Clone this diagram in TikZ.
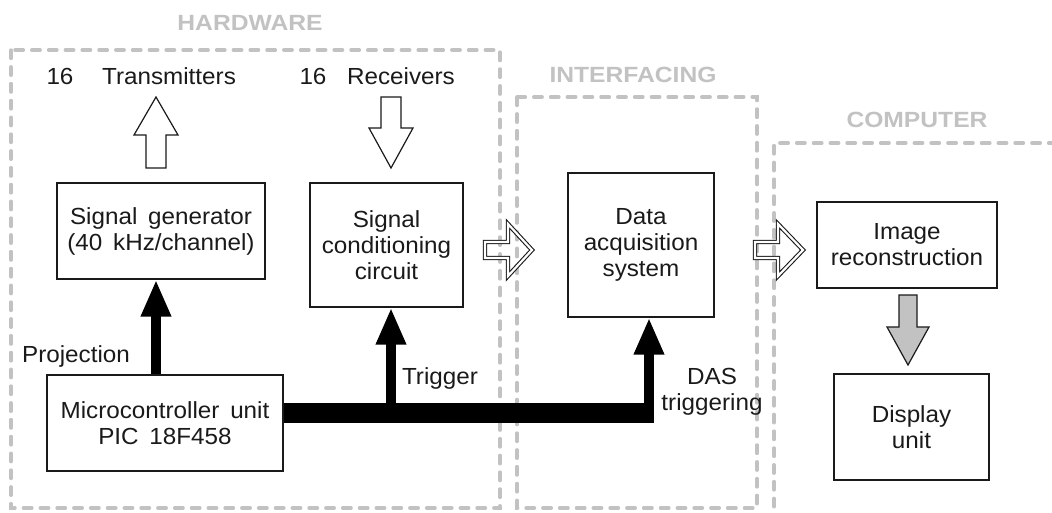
\documentclass[tikz,border=0pt]{standalone}
\usepackage{fontspec}
\setmainfont{Liberation Sans}[FakeStretch=1.04, WordSpace=1.6]
\newfontfamily\titlefont{Liberation Sans}[FakeStretch=1.12]
\usetikzlibrary{arrows.meta}
\definecolor{zone}{HTML}{C2C2C2}
\definecolor{ink}{HTML}{1A1A1A}
\begin{document}
\begin{tikzpicture}[x=1pt,y=-1pt,
  every node/.style={font=\fontsize{23.3}{26}\selectfont, text=ink, inner sep=0pt},
  blockbox/.style={draw=ink, line width=1.2pt, align=center, fill=white},
  zonebox/.style={draw=zone, line width=3.3pt, line cap=round, dash pattern=on 8.5pt off 8.3pt},
  zonetitle/.style={font=\titlefont\fontsize{22}{24}\selectfont\bfseries, text=zone},
  bigarrow/.style={line width=10pt, draw=black, -{Triangle[width=28pt,length=37pt]}},
  hollow/.style={draw=ink, line width=1.2pt, fill=white, line join=miter},
  dblarrow/.style={draw=ink, line width=1.1pt, double=white, double distance=2.2pt, line join=miter},
  grayarrow/.style={draw=ink, line width=1.2pt, fill=zone, line join=miter}]
\useasboundingbox (0,0) rectangle (1052,512);
% zones
\draw[zonebox] (11,50) rectangle (500,508);
\draw[zonebox] (517,97) rectangle (757,508);
\draw[zonebox] (1070,530) -- (774,530) -- (774,143) -- (1070,143);
\node[zonetitle] (thw) at (250,23) {HARDWARE};
\node[zonetitle] (tif) at (633,75) {INTERFACING};
\node[zonetitle] (tco) at (917,120) {COMPUTER};
% blocks
\node[blockbox, minimum width=208pt, minimum height=96pt] (sg) at (161,231) {Signal generator\\(40 kHz/channel)};
\node[blockbox, minimum width=153pt, minimum height=124pt] (scc) at (386.5,245) {Signal\\conditioning\\circuit};
\node[blockbox, minimum width=236pt, minimum height=96pt] (mcu) at (165,423) {Microcontroller unit\\PIC 18F458};
\node[blockbox, minimum width=146pt, minimum height=144pt] (das) at (641,245) {Data\\acquisition\\system};
\node[blockbox, minimum width=180pt, minimum height=86pt] (ir) at (907,245) {Image\\reconstruction};
\node[blockbox, minimum width=155pt, minimum height=106pt] (du) at (911.5,427) {Display\\unit};
% top labels
\node (n16a) at (60,76) {16};
\node (tx) at (169,76) {Transmitters};
\node (n16b) at (313,76) {16};
\node (rx) at (401,76) {Receivers};
% hollow arrows
\draw[hollow] (146,168) -- (146,135) -- (134,135) -- (156,97) -- (178,135) -- (166,135) -- (166,168) -- cycle;
\draw[hollow] (381,97) -- (401,97) -- (401,128) -- (413,128) -- (391,168) -- (369,128) -- (381,128) -- cycle;
% double outline arrows
\draw[dblarrow] (485,242) -- (508,242) -- (508,224) -- (532,250) -- (508,276) -- (508,258) -- (485,258) -- cycle;
\draw[dblarrow] (755,242) -- (778,242) -- (778,224) -- (803,250) -- (778,276) -- (778,258) -- (755,258) -- cycle;
% gray arrow
\draw[grayarrow] (899,295) -- (917,295) -- (917,327) -- (929,327) -- (908,365) -- (887,327) -- (899,327) -- cycle;
% bus and black arrows
\coordinate (busBL) at (0,423);
\coordinate (busTR) at (654,403);
\fill[black] (mcu.east |- busBL) rectangle (busTR);
\coordinate (pj) at (156,0);
\coordinate (tg) at (391,413);
\coordinate (dg) at (649,413);
\draw[bigarrow] (mcu.north -| pj) -- (sg.south -| pj);
\draw[bigarrow] (tg) -- (scc.south -| tg);
\draw[bigarrow] (dg) -- (das.south -| dg);
% arrow labels
\node (lproj) at (76,356) {Projection};
\node (ltrig) at (440,378) {Trigger};
\node[align=center] (ldas) at (712,392) {DAS\\triggering};
\end{tikzpicture}
\end{document}
